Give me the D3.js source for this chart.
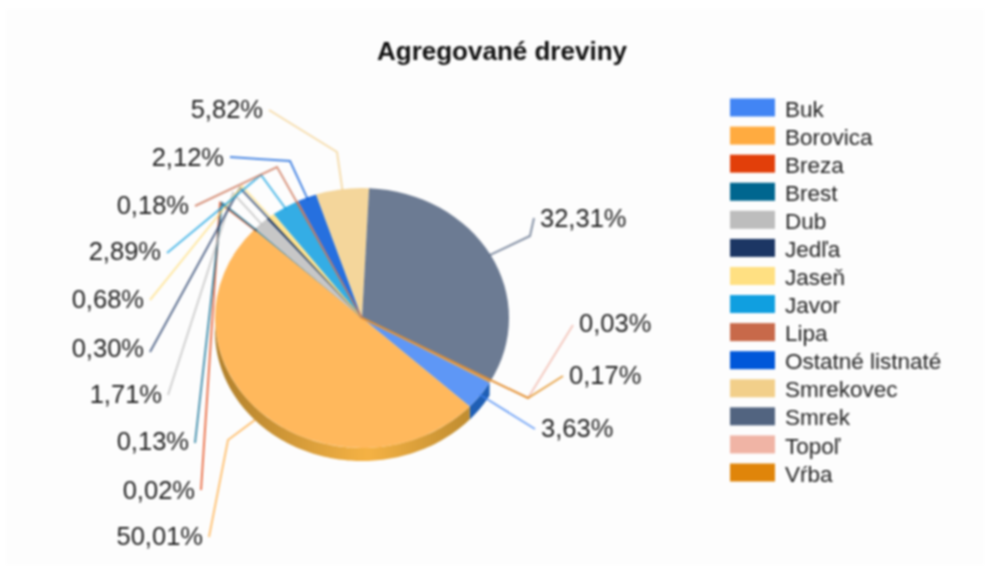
<!DOCTYPE html>
<html>
<head>
<meta charset="utf-8">
<script src="https://cdn.jsdelivr.net/npm/d3@7"></script>
<style>
  html, body { margin: 0; padding: 0; background: #fff; }
  svg { display: block; filter: blur(0.8px); font-family: "Liberation Sans", Arial, sans-serif; }
</style>
</head>
<body>
<div id="chart"></div>
<script>
var species = ["Buk", "Borovica", "Breza", "Brest", "Dub", "Jedľa", "Jaseň", "Javor", "Lipa", "Ostatné listnaté", "Smrekovec", "Smrek", "Topoľ", "Vŕba"];
var shares = [3.63, 50.01, 0.02, 0.13, 1.71, 0.30, 0.68, 2.89, 0.18, 2.12, 5.82, 32.31, 0.03, 0.17];
var colors = ["#4285f4", "#ffab40", "#e23f0a", "#00668f", "#bdbdbd", "#1c3664", "#ffe082", "#109fe0", "#c8694a", "#0057d9", "#f2cf8a", "#526480", "#f0b4a5", "#e0850a"];

// where each leader goes: start radius (fraction of pie radius), elbow, end, label side
var leaders = {
  "Buk":              {r: 0.99, pts: [[535, 429]], side: 1, ly: 428},
  "Borovica":         {r: 1.07, pts: [[228, 440], [209, 537]], side: -1, ly: 536},
  "Breza":            {r: 0.98, pts: [[220, 203], [201, 490]], side: -1, ly: 490},
  "Brest":            {r: 0.98, pts: [[222, 203], [195, 443]], side: -1, ly: 441},
  "Dub":              {r: 0.98, pts: [[233, 193], [168, 395]], side: -1, ly: 394},
  "Jedľa":            {r: 0, pts: [[240, 188], [150, 352]], side: -1, ly: 348},
  "Jaseň":            {r: 0, pts: [[242, 186], [150, 300]], side: -1, ly: 299},
  "Javor":            {r: 0.98, pts: [[261, 175], [167, 253]], side: -1, ly: 251},
  "Lipa":             {r: 0, pts: [[277, 167], [195, 206]], side: -1, ly: 205},
  "Ostatné listnaté": {r: 0.98, pts: [[290, 161], [230, 157]], side: -1, ly: 157},
  "Smrekovec":        {r: 0.99, pts: [[337, 152], [269, 110]], side: -1, ly: 109},
  "Smrek":            {r: 0.99, pts: [[530, 236], [534, 218]], side: 1, ly: 218},
  "Topoľ":            {r: 0, pts: [[528, 398], [573, 325]], side: 1, ly: 323},
  "Vŕba":             {r: 0, pts: [[528, 398], [563, 376]], side: 1, ly: 375}
};

var width = 990, height = 574;
var cx = 362, cy = 318, rx = 147, ry = 130, depth = 13;
var startAngle = 119.8 * Math.PI / 180;
var formatShare = function(v) { return v.toFixed(2).replace(".", ",") + "%"; };

var color = d3.scaleOrdinal().domain(species).range(colors);

var svg = d3.select("#chart").append("svg")
    .attr("width", width)
    .attr("height", height);

svg.append("rect")
    .attr("x", 6)
    .attr("y", 9)
    .attr("width", width - 12)
    .attr("height", height - 18)
    .attr("fill", "#fdfdfd");

svg.append("text")
    .attr("x", 502)
    .attr("y", 60)
    .attr("text-anchor", "middle")
    .attr("font-size", 26)
    .attr("font-weight", "bold")
    .attr("fill", "#111")
    .text("Agregované dreviny");

var pie = d3.pie()
    .sort(null)
    .startAngle(startAngle)
    .endAngle(startAngle + 2 * Math.PI)
    .value(function(d, i) { return shares[i]; });

var slices = pie(species).map(function(d) { d.name = d.data; return d; });

function polar(a, r) {
  return [cx + rx * r * Math.sin(a), cy - ry * r * Math.cos(a)];
}

// side wall of the pie, only the front half is visible
var defs = svg.append("defs");
var grad = defs.append("linearGradient").attr("id", "borovica-side");
grad.append("stop").attr("offset", "0%").attr("stop-color", "#b0802c");
grad.append("stop").attr("offset", "60%").attr("stop-color", "#f5b244");
grad.append("stop").attr("offset", "100%").attr("stop-color", "#bf8c30");

var sideFill = {"Buk": "#1f5fb5", "Borovica": "url(#borovica-side)", "Smrek": "#2c3b55"};
var line = d3.line();

slices.forEach(function(d) {
  var a0 = Math.max(d.startAngle, Math.PI / 2),
      a1 = Math.min(d.endAngle, 3 * Math.PI / 2);
  if (a1 <= a0) return;
  var angles = d3.range(a0, a1, 0.02).concat([a1]);
  var top = angles.map(function(a) { return polar(a, 1); });
  var bottom = angles.slice().reverse().map(function(a) {
    var p = polar(a, 1);
    return [p[0], p[1] + depth];
  });
  svg.append("path")
      .attr("d", line(top.concat(bottom)) + "Z")
      .attr("fill", sideFill[d.name] || color(d.name));
});

var arc = d3.arc().innerRadius(0).outerRadius(rx);

svg.append("g")
    .attr("transform", "translate(" + cx + "," + cy + ") scale(1," + (ry / rx) + ")")
  .selectAll("path")
    .data(slices)
  .enter().append("path")
    .attr("d", arc)
    .attr("fill", function(d) { return color(d.name); })
    .attr("fill-opacity", 0.85);

// leaders and percentage labels
slices.forEach(function(d) {
  var l = leaders[d.name];
  var mid = (d.startAngle + d.endAngle) / 2;
  var pts = [polar(mid, l.r)].concat(l.pts);
  svg.append("path")
      .attr("d", line(pts))
      .attr("fill", "none")
      .attr("stroke", color(d.name))
      .attr("stroke-opacity", 0.7)
      .attr("stroke-width", 2);
  var end = l.pts[l.pts.length - 1];
  svg.append("text")
      .attr("x", end[0] + l.side * 6)
      .attr("y", l.ly)
      .attr("dy", "0.36em")
      .attr("text-anchor", l.side > 0 ? "start" : "end")
      .attr("font-size", 25.5)
      .attr("fill", "#222")
      .text(formatShare(shares[species.indexOf(d.name)]));
});

// legend
var legendY = d3.scalePoint().domain(species).range([107.5, 472.5]);

var legend = svg.selectAll(".legend")
    .data(species)
  .enter().append("g")
    .attr("class", "legend")
    .attr("transform", function(d) { return "translate(730," + legendY(d) + ")"; });

legend.append("rect")
    .attr("y", -9)
    .attr("width", 45)
    .attr("height", 18)
    .attr("fill", function(d) { return color(d); });

legend.append("text")
    .attr("x", 55)
    .attr("y", 1)
    .attr("dy", "0.36em")
    .attr("font-size", 22.5)
    .attr("fill", "#222")
    .text(function(d) { return d; });
</script>
</body>
</html>
